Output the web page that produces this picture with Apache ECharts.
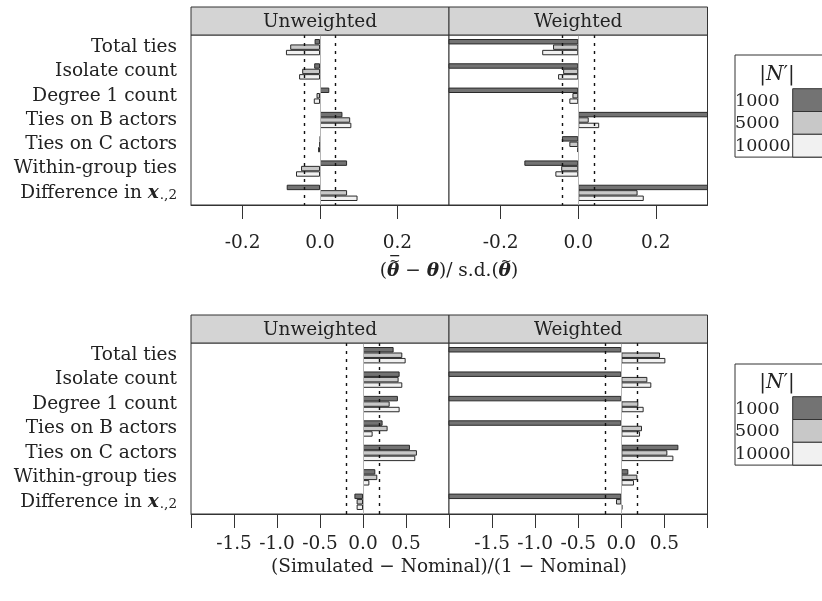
<!DOCTYPE html>
<html>
<head>
<meta charset="utf-8">
<script src="https://cdn.jsdelivr.net/npm/echarts@6/dist/echarts.min.js"></script>
<style>html,body{margin:0;padding:0;background:#fff}#c{width:822px;height:601px}</style>
</head>
<body>
<div id="c"></div>
<script>
// ---- data ----
const categories = ['Total ties','Isolate count','Degree 1 count','Ties on B actors','Ties on C actors','Within-group ties','Difference in x.,2'];
const sizes = ['1000','5000','10000'];
// top: (mean(theta~) - theta)/s.d.(theta~)
const biasUnw1000  = [-0.014,-0.015, 0.024, 0.058, 0.001, 0.070,-0.086];
const biasUnw5000  = [-0.077,-0.046,-0.009, 0.078,-0.001,-0.049, 0.070];
const biasUnw10000 = [-0.088,-0.054,-0.016, 0.081,-0.005,-0.062, 0.097];
const biasW1000    = [-0.60,-0.60,-0.60, 0.60,-0.042,-0.139, 0.60];
const biasW5000    = [-0.065,-0.039,-0.015, 0.027,-0.023,-0.044, 0.153];
const biasW10000   = [-0.093,-0.052,-0.023, 0.054,-0.002,-0.059, 0.169];
// bottom: (Simulated - Nominal)/(1 - Nominal)
const covUnw1000   = [0.356,0.426,0.406,0.228,0.546,0.143,-0.100];
const covUnw5000   = [0.457,0.414,0.310,0.286,0.627,0.166,-0.074];
const covUnw10000  = [0.496,0.457,0.426,0.112,0.608,0.074,-0.074];
const covW1000     = [-3.0,-3.0,-3.0,-3.0,0.662,0.081,-3.0];
const covW5000     = [0.449,0.302,0.197,0.240,0.534,0.186,-0.062];
const covW10000    = [0.511,0.348,0.259,0.217,0.604,0.147,0.012];
const topTicks = [-0.2, 0.0, 0.2];
const bottomTicks = [-1.5, -1.0, -0.5, 0.0, 0.5];
const topRefLines = [-0.044, 0.044];
const bottomRefLines = [-0.19, 0.19];
const panelNames = ['Unweighted','Weighted'];

// ---- styling ----
const FONT = 'DejaVu Serif';
const colors = ['#737373','#c8c8c8','#f1f1f1'];
const TXT = '#222';
const LBL = 18.5;

const grids = [
  {left:191, top:35,  width:258, height:170},
  {left:449, top:35,  width:258.5, height:170},
  {left:191, top:343, width:258, height:171},
  {left:449, top:343, width:258.5, height:171}
];

function yAxisFor(gi, showLabels){
  return {
    type:'category', gridIndex:gi, data:categories, inverse:true,
    axisLine:{show:false}, axisTick:{show:false},
    axisLabel:{
      show:showLabels, interval:0, hideOverlap:false, margin:14, fontFamily:FONT, fontSize:LBL, color:TXT,
      formatter:function(v){
        if(v.indexOf('Difference')===0) return 'Difference in {bx|x}{sub|.,2}';
        return v;
      },
      rich:{
        bx:{fontFamily:FONT, fontSize:LBL, fontWeight:'bold', fontStyle:'italic', color:TXT},
        sub:{fontFamily:FONT, fontSize:13.5, color:TXT, verticalAlign:'bottom', lineHeight:6, padding:[0,0,0,1]}
      }
    }
  };
}
function xAxisTop(gi){
  return {
    type:'value', gridIndex:gi, min:-1/3, max:1/3,
    splitLine:{show:false},
    axisLine:{show:true, lineStyle:{color:'#333'}},
    axisTick:{show:true, length:14, lineStyle:{color:'#333'}, customValues:topTicks},
    axisLabel:{margin:29, fontFamily:FONT, fontSize:18.5, color:TXT, customValues:topTicks,
      formatter:function(v){return v.toFixed(1);}}
  };
}
function xAxisBottom(gi){
  return {
    type:'value', gridIndex:gi, min:-2, max:1, interval:0.5,
    splitLine:{show:false},
    axisLine:{show:true, lineStyle:{color:'#333'}},
    axisTick:{show:true, length:14, lineStyle:{color:'#333'}},
    axisLabel:{margin:21, fontFamily:FONT, fontSize:18.5, color:TXT, hideOverlap:false,
      formatter:function(v){
        const r = Math.round(v*10)/10;
        return bottomTicks.indexOf(r)>=0 ? r.toFixed(1) : '';
      }}
  };
}
function barSeries(gi, arrs, refs){
  return arrs.map(function(d,k){
    const s = {
      type:'bar', name:sizes[k], xAxisIndex:gi, yAxisIndex:gi, data:d,
      barGap:'0%', barCategoryGap:'33%', clip:true,
      itemStyle:{color:colors[k], borderColor:'#2a2a2a', borderWidth:1},
      silent:true
    };
    if(k===0){
      s.markLine = {
        silent:true, symbol:'none', label:{show:false},
        data:[
          {xAxis:0, lineStyle:{color:'#b5b5b5', type:'solid', width:1}},
          {xAxis:refs[0], lineStyle:{color:'#111', type:[3,5], width:1.4}},
          {xAxis:refs[1], lineStyle:{color:'#111', type:[3,5], width:1.4}}
        ]
      };
    }
    return s;
  });
}

const graphics = [];
// strip headers
[[191,7,258],[449,7,258.5],[191,315,258],[449,315,258.5]].forEach(function(h,i){
  graphics.push({type:'rect', shape:{x:h[0], y:h[1], width:h[2], height:28},
    style:{fill:'#d4d4d4', stroke:'#333', lineWidth:1}, z:10});
  graphics.push({type:'text', x:h[0]+h[2]/2, y:h[1]+15,
    style:{text:panelNames[i%2], font:'18.5px "'+FONT+'"', fill:TXT, align:'center', verticalAlign:'middle'}, z:11});
});
// legends
[[55,75,88.7],[364,383,396.7]].forEach(function(L){
  const rowH = 22.8;
  graphics.push({type:'rect', shape:{x:735, y:L[0], width:120, height:L[2]+3*rowH-L[0]},
    style:{fill:'#fff', stroke:'#333', lineWidth:1}, z:10});
  graphics.push({type:'text', x:777, y:L[1],
    style:{text:'|{i|N}′|', font:'20px "'+FONT+'"', fill:TXT, align:'center', verticalAlign:'middle',
      rich:{i:{fontFamily:FONT, fontSize:20, fontStyle:'italic', fill:TXT}}}, z:11});
  sizes.forEach(function(s,k){
    const y0 = L[2]+k*rowH;
    graphics.push({type:'rect', shape:{x:792.7, y:y0, width:60, height:rowH},
      style:{fill:colors[k], stroke:'#333', lineWidth:1}, z:11});
    graphics.push({type:'text', x:735, y:y0+rowH/2+1,
      style:{text:s, font:'17.5px "'+FONT+'"', fill:TXT, align:'left', verticalAlign:'middle'}, z:11});
  });
});
// top axis title: (θ~bar − θ)/ s.d.(θ~), built from measured pieces
(function(){
  const cv = document.createElement('canvas').getContext('2d');
  const reg = '18.5px "'+FONT+'"', bld = 'italic bold 18.5px "'+FONT+'"';
  const pieces = [['(',reg],['θ',bld,'tb'],[' − ',reg],['θ',bld],[')/ s.d.(',reg],['θ',bld,'t'],[')',reg]];
  let w = 0; pieces.forEach(function(p){cv.font=p[1]; p.w=cv.measureText(p[0]).width; w+=p.w;});
  let x = 449 - w/2; const y = 271;
  pieces.forEach(function(p){
    graphics.push({type:'text', x:x, y:y, style:{text:p[0], font:p[1], fill:TXT, align:'left', verticalAlign:'middle'}, z:11});
    if(p[2]){
      const cx = x + p.w/2 + 1.5;
      graphics.push({type:'text', x:cx, y:y-9, style:{text:'~', font:'13px "'+FONT+'"', fill:TXT, align:'center', verticalAlign:'middle'}, z:11});
      if(p[2]==='tb') graphics.push({type:'rect', shape:{x:cx-4.5, y:y-16, width:9, height:1.3}, style:{fill:TXT}, z:11});
    }
    x += p.w;
  });
})();
graphics.push({type:'text', x:449, y:567,
  style:{text:'(Simulated − Nominal)/(1 − Nominal)', font:'18.5px "'+FONT+'"', fill:TXT, align:'center', verticalAlign:'middle'}, z:11});

const option = {
  animation:false,
  backgroundColor:'#fff',
  grid: grids.map(function(g){return Object.assign({show:true, borderColor:'#333', borderWidth:1, backgroundColor:'#fff', containLabel:false}, g);}),
  xAxis:[xAxisTop(0), xAxisTop(1), xAxisBottom(2), xAxisBottom(3)],
  yAxis:[yAxisFor(0,true), yAxisFor(1,false), yAxisFor(2,true), yAxisFor(3,false)],
  series:[].concat(
    barSeries(0,[biasUnw1000,biasUnw5000,biasUnw10000], topRefLines),
    barSeries(1,[biasW1000,biasW5000,biasW10000], topRefLines),
    barSeries(2,[covUnw1000,covUnw5000,covUnw10000], bottomRefLines),
    barSeries(3,[covW1000,covW5000,covW10000], bottomRefLines)
  ),
  graphic: graphics
};
const chart = echarts.init(document.getElementById('c'), null, {renderer:'canvas'});
chart.setOption(option);
</script>
</body>
</html>
